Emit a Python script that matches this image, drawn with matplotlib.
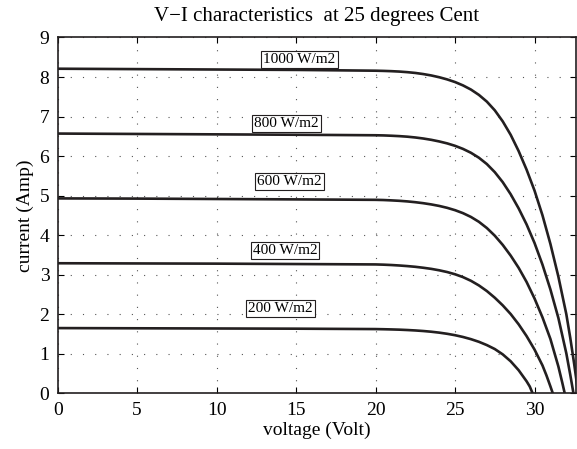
import numpy as np
import matplotlib
matplotlib.use("Agg")
import matplotlib.pyplot as plt

plt.rcParams['font.family'] = ['Liberation Serif', 'DejaVu Serif']

# voltage (V) / current (A), one pair per irradiance
knee = [20, 20.5, 21, 21.5, 22, 22.5, 23, 23.5, 24, 24.5, 25, 25.5, 26, 26.5,
        27, 27.5, 28, 28.5, 29, 29.5, 30, 30.5]

v1000 = [0, 5, 10, 15] + knee + [31, 31.5, 32, 32.25, 32.5, 32.75]
i1000 = [8.21, 8.20, 8.19, 8.18,
         8.160, 8.155, 8.148, 8.138, 8.123, 8.103, 8.075, 8.040, 7.995, 7.940,
         7.873, 7.788, 7.683, 7.548, 7.378, 7.158, 6.878, 6.538, 6.128, 5.658,
         5.128, 4.503,
         3.778, 2.953, 2.003, 1.40, 0.73, 0.0]

v800 = [0, 5, 10, 15] + knee + [31, 31.5, 32, 32.25, 32.45]
i800 = [6.57, 6.56, 6.55, 6.54,
        6.527, 6.523, 6.515, 6.505, 6.491, 6.471, 6.445, 6.412, 6.371, 6.322,
        6.260, 6.182, 6.084, 5.959, 5.799, 5.594, 5.341, 5.035, 4.678, 4.273,
        3.803, 3.255,
        2.627, 1.907, 1.013, 0.467, 0.0]

v600 = [0, 5, 10, 15] + knee + [31, 31.5, 31.75, 31.9]
i600 = [4.93, 4.925, 4.915, 4.905,
        4.894, 4.889, 4.880, 4.869, 4.854, 4.834, 4.809, 4.778, 4.740, 4.692,
        4.632, 4.557, 4.461, 4.338, 4.181, 3.987, 3.754, 3.483, 3.175, 2.817,
        2.399, 1.922,
        1.374, 0.680, 0.263, 0.0]

v400 = [0, 5, 10, 15] + knee + [30.75, 31, 31.15]
i400 = [3.29, 3.285, 3.28, 3.27,
        3.260, 3.254, 3.245, 3.233, 3.218, 3.200, 3.176, 3.148, 3.112, 3.068,
        3.011, 2.939, 2.846, 2.729, 2.587, 2.418, 2.225, 2.005, 1.746, 1.448,
        1.107, 0.706,
        0.454, 0.175, 0.0]

v200 = [0, 5, 10, 15] + knee[:-2] + [29.7, 29.88]
i200 = [1.65, 1.645, 1.64, 1.635,
        1.625, 1.621, 1.616, 1.610, 1.601, 1.590, 1.576, 1.558, 1.535, 1.506,
        1.470, 1.425, 1.370, 1.303, 1.220, 1.120, 0.985, 0.810, 0.585, 0.305,
        0.173, 0.0]

labels = ['1000 W/m2', '800 W/m2', '600 W/m2', '400 W/m2', '200 W/m2']
label_x = [15.2, 14.4, 14.6, 14.3, 14.0]
label_y = [8.45, 6.83, 5.35, 3.62, 2.15]

fig = plt.figure(figsize=(5.77, 4.49), dpi=100)
ax = fig.add_axes([0.1, 0.124, 0.898, 0.7925])

for v, i in [(v1000, i1000), (v800, i800), (v600, i600), (v400, i400), (v200, i200)]:
    ax.plot(v, i, color='#231f20', lw=1.9, solid_capstyle='butt')

for t, x, y in zip(labels, label_x, label_y):
    ax.text(x, y, t, ha='center', va='center', fontsize=11,
            bbox=dict(boxstyle='square,pad=0.14', fc='white', ec='#231f20', lw=0.8))

ax.set_xlim(0, 32.6)
ax.set_ylim(0, 9)
ax.set_xticks(np.arange(0, 31, 5))
ax.set_yticks(np.arange(0, 10, 1))
ax.grid(True, color='#555555', lw=0.8, linestyle=(0, (1, 10)))
ax.tick_params(direction='in', top=True, right=True, labelsize=14, length=4, pad=6)
for s in ax.spines.values():
    s.set_linewidth(1.2)
    s.set_color('#231f20')

ax.set_title('V\u2212I characteristics  at 25 degrees Cent', fontsize=15, pad=12)
ax.set_xlabel('voltage (Volt)', fontsize=14, labelpad=2)
ax.set_ylabel('current (Amp)', fontsize=14, labelpad=4)

fig.savefig('out.png', dpi=100)
